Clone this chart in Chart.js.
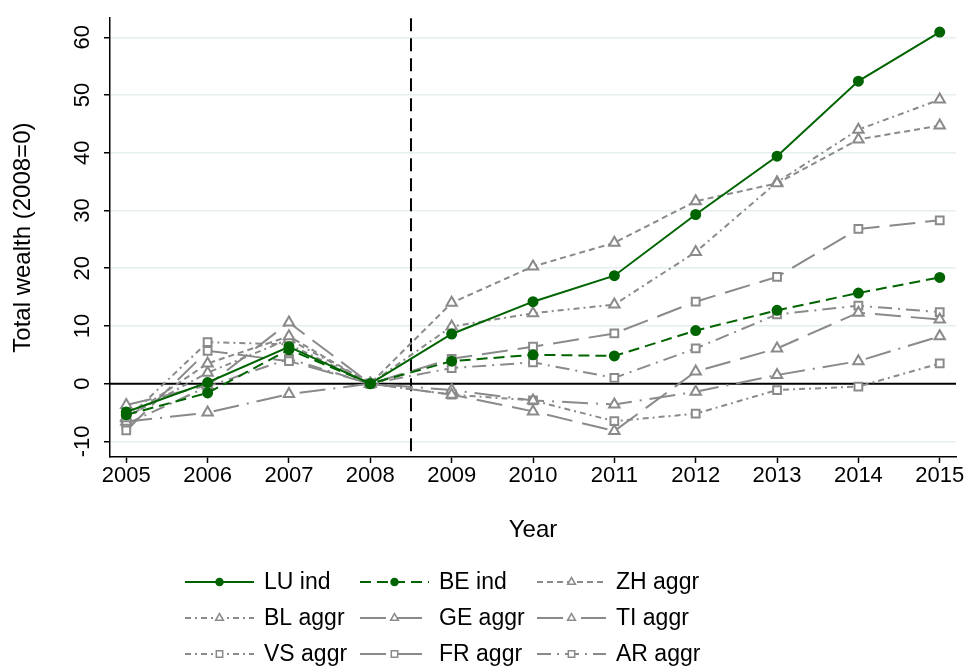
<!DOCTYPE html>
<html>
<head>
<meta charset="utf-8">
<script src="https://cdn.jsdelivr.net/npm/chart.js@4.4.1/dist/chart.umd.min.js"></script>
<style>
  html, body { margin: 0; padding: 0; background: #ffffff; }
  #wrap { width: 969px; height: 669px; position: relative; }
</style>
</head>
<body>
<div id="wrap"><canvas id="chart" width="969" height="669"></canvas></div>
<script>
// Years on the x axis and tick values on the y axis
const years = [2005, 2006, 2007, 2008, 2009, 2010, 2011, 2012, 2013, 2014, 2015];
const yTicks = [-10, 0, 10, 20, 30, 40, 50, 60];

// Total wealth relative to 2008 (2008 = 0)
const luInd  = [-4.9,  0.2,  6.4, 0,  8.6, 14.2, 18.7, 29.3, 39.4, 52.4, 60.9];
const beInd  = [-5.4, -1.6,  5.9, 0,  3.9,  5.0,  4.8,  9.2, 12.7, 15.7, 18.4];
const zhAggr = [-6.0,  3.5,  8.2, 0, 14.0, 20.3, 24.4, 31.6, 34.7, 42.3, 44.7];
const blAggr = [-5.8,  1.9,  7.7, 0,  9.9, 12.2, 13.7, 22.8, 34.9, 44.0, 49.2];
const geAggr = [-3.7, -0.3, 10.6, 0, -1.9, -4.8, -8.2,  2.1,  6.1, 12.3, 11.1];
const tiAggr = [-6.6, -5.0, -1.8, 0, -1.1, -2.9, -3.6, -1.4,  1.5,  3.9,  8.2];
const vsAggr = [-6.2,  7.2,  6.8, 0, -1.9, -2.9, -6.5, -5.2, -1.1, -0.5,  3.5];
const frAggr = [-8.1,  5.7,  3.9, 0,  4.3,  6.4,  8.7, 14.2, 18.5, 26.8, 28.3];
const arAggr = [-7.0, -0.5,  4.3, 0,  2.7,  3.7,  1.0,  6.1, 12.0, 13.5, 12.4];

const seriesNames = ['LU ind', 'BE ind', 'ZH aggr', 'BL aggr', 'GE aggr', 'TI aggr', 'VS aggr', 'FR aggr', 'AR aggr'];
const seriesValues = [luInd, beInd, zhAggr, blAggr, geAggr, tiAggr, vsAggr, frAggr, arAggr];

// Reference lines: policy break and the zero baseline
const breakYear = 2008.5;
const baseline = 0;

const FONT = "'Liberation Sans', Arial, Helvetica, sans-serif";
const GREEN = '#006400';
const GREY = '#8a8a8a';

const styles = [
  { color: GREEN, dash: [],              point: 'circle',   fill: GREEN,  r: 4.5 },
  { color: GREEN, dash: [11, 6],         point: 'circle',   fill: GREEN,  r: 4.5 },
  { color: GREY,  dash: [6, 4],          point: 'triangle', fill: '#fff', r: 6 },
  { color: GREY,  dash: [6, 4, 2, 4],    point: 'triangle', fill: '#fff', r: 6 },
  { color: GREY,  dash: [26, 10],        point: 'triangle', fill: '#fff', r: 6 },
  { color: GREY,  dash: [26, 8, 2, 8],   point: 'triangle', fill: '#fff', r: 6 },
  { color: GREY,  dash: [6, 4, 2, 4],    point: 'rect',     fill: '#fff', r: 5.5 },
  { color: GREY,  dash: [26, 10],        point: 'rect',     fill: '#fff', r: 5.5 },
  { color: GREY,  dash: [14, 6, 2, 6],   point: 'rect',     fill: '#fff', r: 5.5 }
];

const datasets = seriesNames.map((name, i) => ({
  label: name,
  data: years.map((yr, k) => ({ x: yr, y: seriesValues[i][k] })),
  borderColor: styles[i].color,
  borderWidth: 2,
  borderDash: styles[i].dash,
  pointStyle: styles[i].point,
  pointRadius: styles[i].r,
  pointBorderWidth: 2,
  pointBorderColor: styles[i].color,
  pointBackgroundColor: styles[i].fill,
  pointHoverRadius: styles[i].r,
  tension: 0,
  fill: false
}));

// Black zero line and dashed vertical break line
const refLines = {
  id: 'refLines',
  beforeDatasetsDraw(chart) {
    const { ctx, chartArea, scales } = chart;
    const y0 = scales.y.getPixelForValue(baseline);
    const xb = scales.x.getPixelForValue(breakYear);
    ctx.save();
    ctx.strokeStyle = '#000';
    ctx.lineWidth = 2;
    ctx.beginPath();
    ctx.moveTo(chartArea.left, y0);
    ctx.lineTo(chartArea.right, y0);
    ctx.stroke();
    ctx.setLineDash([13, 7]);
    ctx.beginPath();
    ctx.moveTo(xb, chartArea.top);
    ctx.lineTo(xb, chartArea.bottom);
    ctx.stroke();
    ctx.restore();
  }
};

// Three-column legend underneath the plot
const gridLegend = {
  id: 'gridLegend',
  afterDraw(chart) {
    const { ctx } = chart;
    const colX = [185, 360, 537];
    const rowY = [582, 618, 654];
    const sampleLen = 69;
    ctx.save();
    chart.data.datasets.forEach((ds, i) => {
      const x0 = colX[i % 3];
      const y = rowY[Math.floor(i / 3)];
      ctx.strokeStyle = ds.borderColor;
      ctx.lineWidth = 2;
      ctx.setLineDash(ds.borderDash);
      ctx.beginPath();
      ctx.moveTo(x0, y);
      ctx.lineTo(x0 + sampleLen, y);
      ctx.stroke();
      ctx.setLineDash([]);
      const r = ds.pointStyle === 'circle' ? 3.5 : 4.5;
      const cx = x0 + sampleLen / 2;
      ctx.fillStyle = ds.pointBackgroundColor;
      ctx.strokeStyle = ds.pointBorderColor;
      ctx.lineWidth = 1.5;
      ctx.beginPath();
      if (ds.pointStyle === 'circle') {
        ctx.arc(cx, y, r, 0, Math.PI * 2);
      } else if (ds.pointStyle === 'triangle') {
        ctx.moveTo(cx, y - r);
        ctx.lineTo(cx + r * 0.866, y + r * 0.5);
        ctx.lineTo(cx - r * 0.866, y + r * 0.5);
        ctx.closePath();
      } else {
        const s = r * Math.SQRT1_2;
        ctx.rect(cx - s, y - s, 2 * s, 2 * s);
      }
      ctx.fill();
      ctx.stroke();
      ctx.fillStyle = '#000';
      ctx.font = '23px ' + FONT;
      ctx.textBaseline = 'middle';
      ctx.textAlign = 'left';
      ctx.fillText(ds.label, x0 + sampleLen + 10, y + 1);
    });
    ctx.restore();
  }
};

new Chart(document.getElementById('chart'), {
  type: 'line',
  data: { datasets },
  plugins: [refLines, gridLegend],
  options: {
    responsive: false,
    devicePixelRatio: 1,
    animation: false,
    layout: { padding: { left: 0, top: 7, right: 13, bottom: 121 } },
    plugins: { legend: { display: false }, tooltip: { enabled: false } },
    scales: {
      x: {
        type: 'linear',
        min: 2004.8,
        max: 2015.2,
        afterBuildTicks: s => { s.ticks = years.map(v => ({ value: v })); },
        afterFit: s => { s.height = 91; },
        ticks: {
          color: '#000',
          font: { family: FONT, size: 22 },
          padding: 0,
          maxRotation: 0,
          autoSkip: false,
          callback: v => String(v)
        },
        grid: { drawOnChartArea: false, drawTicks: true, tickLength: 6, tickColor: '#000', tickWidth: 1.5 },
        border: { display: true, color: '#000', width: 1.5 },
        title: { display: true, text: 'Year', color: '#000', font: { family: FONT, size: 24 }, padding: { top: 0, bottom: 3 } }
      },
      y: {
        type: 'linear',
        min: -12.7,
        max: 63.3,
        afterBuildTicks: s => { s.ticks = yTicks.map(v => ({ value: v })); },
        afterFit: s => { s.width = 110; },
        ticks: {
          color: '#000',
          font: { family: FONT, size: 22 },
          minRotation: 90,
          maxRotation: 90,
          crossAlign: 'center',
          padding: 5,
          autoSkip: false,
          callback: v => String(v)
        },
        grid: {
          color: ctx => (ctx.tick && ctx.tick.value === baseline) ? 'rgba(0,0,0,0)' : '#e5eef0',
          lineWidth: 1.5,
          drawTicks: true,
          tickLength: 6,
          tickColor: '#000',
          tickWidth: 1.5
        },
        border: { display: true, color: '#000', width: 1.5 },
        title: { display: true, text: 'Total wealth (2008=0)', color: '#000', font: { family: FONT, size: 24 }, padding: { top: 9, bottom: 0 } }
      }
    }
  }
});
</script>
</body>
</html>
